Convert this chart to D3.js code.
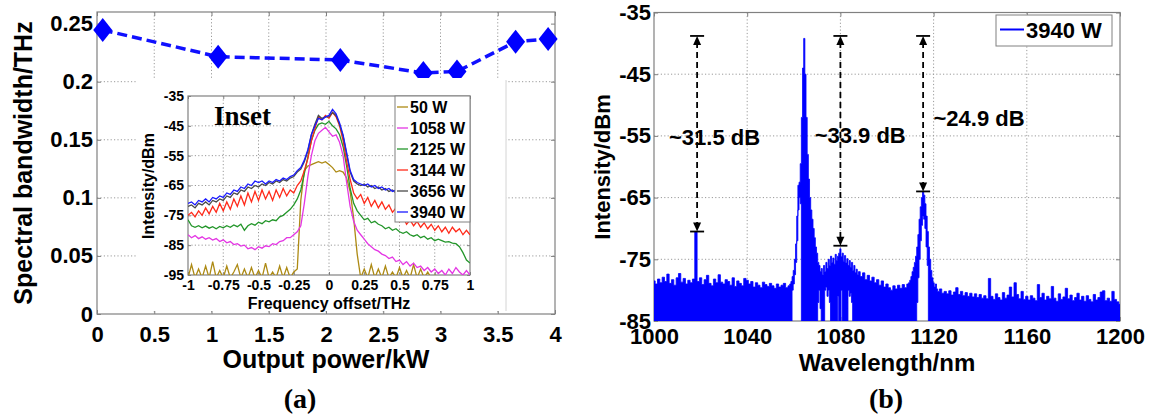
<!DOCTYPE html>
<html><head><meta charset="utf-8">
<script src="https://cdn.jsdelivr.net/npm/d3@7"></script>
<style>
body{margin:0;background:#fff}
svg{display:block}
text{font-family:"Liberation Sans",Arial,sans-serif;font-weight:bold;fill:#000}
text.serif{font-family:"Liberation Serif","Times New Roman",serif}
</style></head>
<body><svg id="c" width="1153" height="417"></svg>
<script>
// ---------------- DATA ----------------
// Panel (a): spectral bandwidth vs output power
const powerKW = [0.05, 1.058, 2.125, 2.85, 3.144, 3.656, 3.94];
const bandwidthTHz = [0.2445, 0.2215, 0.2187, 0.2075, 0.2088, 0.2344, 0.2368];
const aXTicks = [0, 0.5, 1, 1.5, 2, 2.5, 3, 3.5, 4];
const aXTickLabels = ["0", "0.5", "1", "1.5", "2", "2.5", "3", "3.5", "4"];
const aYTicks = [0, 0.05, 0.1, 0.15, 0.2, 0.25];
const aYTickLabels = ["0", "0.05", "0.1", "0.15", "0.2", "0.25"];

// Inset: spectra vs frequency offset
const insetSeries = ["50 W", "1058 W", "2125 W", "3144 W", "3656 W", "3940 W"];
const freqOffset = [-1,-0.975,-0.95,-0.925,-0.9,-0.875,-0.85,-0.825,-0.8,-0.775,-0.75,-0.725,-0.7,-0.675,-0.65,-0.625,-0.6,-0.575,-0.55,-0.525,-0.5,-0.475,-0.45,-0.425,-0.4,-0.375,-0.35,-0.325,-0.3,-0.275,-0.25,-0.225,-0.2,-0.175,-0.15,-0.125,-0.1,-0.075,-0.05,-0.025,0,0.025,0.05,0.075,0.1,0.125,0.15,0.175,0.2,0.225,0.25,0.275,0.3,0.325,0.35,0.375,0.4,0.425,0.45,0.475,0.5,0.525,0.55,0.575,0.6,0.625,0.65,0.675,0.7,0.725,0.75,0.775,0.8,0.825,0.85,0.875,0.9,0.925,0.95,0.975,1];
const int50W = [-96,-91.5,-96,-93,-96,-92,-96,-90.5,-96,-93.5,-96,-92,-96,-94,-91.5,-96,-93,-96,-92.5,-96,-93.5,-96,-91,-96,-94,-96,-92,-96,-92.5,-96,-94,-93,-70,-60,-58.5,-58,-57.5,-57,-57.5,-57,-58,-59,-60.5,-60,-60.5,-62.5,-67,-76,-88,-96,-93,-96,-91.5,-96,-93,-96,-92,-96,-94,-96,-92.5,-96,-93.5,-96,-91.5,-96,-93,-96,-94,-96,-95,-96,-96,-96,-96,-96,-96,-96,-96,-96,-96];
const int1058W = [-81.5,-82.5,-81.8,-82.8,-82.2,-83,-82.5,-83.3,-82.8,-83.8,-83.2,-84.2,-83.8,-84.8,-84.5,-85.3,-85,-86.2,-85.8,-86.5,-85.5,-86,-85.2,-85.5,-84.5,-84.8,-83.8,-83.5,-82.5,-82.5,-81.5,-80.5,-78.5,-71,-62,-55,-50,-47.5,-46.5,-45.5,-47,-48.5,-48,-50.5,-55,-64,-72,-77,-80,-81.5,-83,-84.5,-85.5,-86.5,-87,-88,-88.5,-89.5,-89,-90.5,-90,-91.5,-90.5,-92,-91,-92.5,-92,-93.5,-92.5,-94,-93,-94.5,-93.5,-95,-93,-94.5,-92.5,-94,-95,-93.5,-95];
const int2125W = [-76.5,-78.5,-79,-78.5,-79.2,-78.6,-79.3,-78.8,-79.5,-78.7,-79.2,-78.5,-79,-78.2,-78.8,-78,-80,-78.5,-77.8,-78.3,-77.3,-77.8,-76.8,-77.2,-76.5,-76.8,-75.5,-75,-74,-73,-71.5,-69.5,-66.5,-61,-55.5,-50,-46.5,-44.5,-44,-44.5,-43.5,-45,-46,-48,-52,-58.5,-66,-71,-73.5,-75,-76.5,-76,-77.5,-77,-78,-78.5,-79.5,-79,-80,-79.5,-80.5,-81,-80.5,-81.5,-82,-81.5,-82.5,-82,-83,-82.5,-83.5,-83,-83.5,-84,-83.8,-84.3,-84.5,-85.5,-87.5,-90,-91];
const int3144W = [-75,-74,-75.5,-73.5,-75,-72.5,-74.5,-72,-74,-71,-73.5,-70.5,-73,-69.5,-72,-68.5,-71.5,-67.5,-70.5,-67,-70,-66.5,-69.5,-67,-70,-66.5,-69,-66,-68.5,-66.5,-67.5,-65,-63.5,-60,-56,-50,-46,-42,-43,-41.5,-42.5,-40.5,-42,-45,-50,-57,-63,-67.5,-69.5,-68,-71,-69,-72,-70,-72.5,-70.5,-73,-71.5,-74,-72.5,-77,-75.5,-78,-76.5,-78.5,-77,-79,-77.5,-79.5,-78,-80,-78.5,-80.5,-79,-81,-79,-80.5,-79.5,-81.5,-80,-81.5];
const int3656W = [-72,-71.5,-72.5,-71,-71.5,-70.5,-71.5,-70,-70.5,-69.5,-70,-68.5,-69,-67.5,-68,-66.5,-67,-65.5,-66,-65,-65.5,-64.5,-65,-64,-64.5,-63.5,-64,-63,-63.5,-62.5,-62,-60.5,-59.5,-57,-53.5,-48,-44.5,-41.5,-42.5,-42,-42,-40.5,-41.5,-44.5,-48.5,-54.5,-60.5,-63.5,-64.5,-65,-64.5,-65.5,-65,-66,-65.5,-66.5,-66,-67,-66.5,-67.5,-67,-68,-67.5,-68.5,-68,-69,-68.5,-69.5,-69,-70,-69.5,-70.5,-70,-71,-70.5,-71.5,-71,-72,-71.5,-72.5,-72];
const int3940W = [-71,-70.5,-71.5,-70,-70.5,-69.5,-70.5,-69,-69.5,-68.5,-69,-67.5,-68,-66.5,-67,-65.5,-66,-64.5,-65,-63.5,-64,-63.5,-64.5,-63.5,-64,-63,-63.5,-62.5,-63,-62,-61.5,-60,-59,-56.5,-53,-48,-45,-42.5,-43,-42,-41.5,-39.5,-41,-44,-48,-54,-60,-63,-64,-64.5,-65,-64.5,-65.5,-65,-66,-65.5,-66.5,-66,-67,-66.5,-67.5,-67,-68,-67.5,-68.5,-68,-69,-68.5,-69.5,-69,-70,-69.5,-70.5,-70,-71,-70.5,-71.5,-71,-72,-71.5,-72.5];
const insetXTicks = [-1,-0.75,-0.5,-0.25,0,0.25,0.5,0.75,1];
const insetXTickLabels = ["-1","-0.75","-0.5","-0.25","0","0.25","0.5","0.75","1"];
const insetYTicks = [-95,-85,-75,-65,-55,-45,-35];
const insetYTickLabels = ["-95","-85","-75","-65","-55","-45","-35"];

// Panel (b): full spectrum at 3940 W (upper / lower envelope of the trace)
const wavelengthNm = [1000,1001,1002,1003,1004,1005,1006,1007,1008,1009,1010,1011,1012,1013,1014,1015,1016,1017,1018,1019,1020,1021,1022,1023,1024,1025,1026,1027,1028,1029,1030,1031,1032,1033,1034,1035,1036,1037,1038,1039,1040,1041,1042,1043,1044,1045,1046,1047,1048,1049,1050,1051,1052,1053,1054,1055,1056,1057,1058,
1058.5,1059,1059.5,1060,1060.5,1061,1061.5,1062,1062.5,1063,1063.5,1064,1064.5,1065,1065.5,1066,1066.5,1067,1067.5,1068,1068.5,1069,1069.5,1070,1070.5,1071,1071.5,1072,1072.5,1073,1073.5,1074,1074.5,1075,1075.5,1076,1076.5,1077,1077.5,1078,1078.5,1079,1079.5,1080,1080.5,1081,1081.5,1082,1082.5,1083,1083.5,1084,1084.5,1085,1085.5,1086,1086.5,1087,1087.5,1088,
1089,1090,1091,1092,1093,1094,1095,1096,1097,1098,1099,1100,1101,1102,1103,1104,1105,1106,1107,1108,1109,
1109.5,1110,1110.5,1111,1111.5,1112,1112.5,1113,1113.5,1114,1114.5,1115,1115.5,1116,1116.5,1117,1117.5,1118,1118.5,1119,1119.5,1120,1120.5,1121,1121.5,1122,
1123,1124,1125,1126,1127,1128,1129,1130,1131,1132,1133,1134,1135,1136,1137,1138,1139,1140,1141,1142,1143,1144,1145,1146,1147,1148,1149,1150,1151,1152,1153,1154,1155,1156,1157,1158,1159,1160,1161,1162,1163,1164,1165,1166,1167,1168,1169,1170,1171,1172,1173,1174,1175,1176,1177,1178,1179,1180,1181,1182,1183,1184,1185,1186,1187,1188,1189,1190,1191,1192,1193,1194,1195,1196,1197,1198,1199,1200];
const specMaxDbm = [-78.5,-79.0,-78.2,-78.8,-77.9,-78.6,-77.4,-78.9,-78.3,-79.2,-78.0,-77.3,-78.7,-78.1,-79.0,-78.4,-78.8,-78.2,-70.5,-78.6,-78.0,-79.1,-78.3,-77.6,-78.9,-79.3,-78.2,-78.8,-77.5,-78.7,-79.0,-78.3,-78.6,-79.2,-78.0,-79.4,-78.5,-78.9,-79.3,-78.1,-78.4,-79.0,-78.6,-79.5,-78.8,-79.2,-79.6,-78.7,-79.1,-79.4,-78.9,-79.3,-79.7,-79.0,-79.5,-79.2,-78.9,-79.6,-79.3,
-79.0,-78.6,-77.8,-76.8,-75.0,-72.5,-68.0,-63.0,-62.5,-59.5,-52.0,-44.0,-39.2,-45.0,-52.0,-58.0,-62.0,-65.0,-67.0,-68.5,-70.0,-71.5,-73.0,-74.0,-75.5,-76.0,-77.0,-76.5,-77.5,-76.0,-77.0,-75.5,-76.5,-75.0,-76.0,-74.5,-75.5,-74.8,-75.8,-74.2,-75.2,-74.5,-74.0,-73.3,-74.6,-74.0,-75.3,-74.4,-75.6,-74.9,-76.0,-75.2,-76.3,-75.5,-76.8,-76.0,-77.2,-76.6,-77.5,-77.0,
-77.8,-77.2,-78.3,-77.6,-78.5,-77.9,-78.8,-78.3,-79.2,-78.5,-79.5,-79.0,-79.6,-80.0,-79.3,-79.8,-79.2,-79.7,-79.1,-79.6,-79.0,
-78.8,-78.4,-77.8,-77.0,-76.3,-75.5,-74.5,-73.0,-71.0,-68.5,-66.5,-65.0,-64.0,-64.6,-66.0,-68.0,-70.5,-73.0,-75.0,-76.8,-78.0,-78.8,-79.5,-79.0,-79.8,-80.2,
-79.8,-80.5,-80.2,-80.6,-80.1,-80.8,-80.3,-79.6,-80.7,-80.2,-80.9,-80.4,-81.0,-80.5,-81.1,-80.6,-81.2,-80.7,-81.3,-80.9,-81.4,-78.1,-81.0,-81.5,-80.6,-81.2,-81.6,-80.4,-81.3,-80.8,-79.5,-81.1,-78.8,-80.7,-81.4,-80.2,-81.5,-81.0,-81.6,-80.9,-81.3,-81.7,-79.1,-81.2,-80.5,-81.6,-81.0,-81.4,-79.4,-81.3,-81.8,-80.6,-81.5,-81.1,-79.7,-81.4,-80.8,-81.7,-81.2,-80.5,-81.6,-81.0,-81.8,-80.9,-81.5,-81.9,-80.7,-81.6,-81.2,-80.3,-80.1,-81.7,-81.3,-81.8,-80.2,-81.5,-81.9,-82.3];
const specMinDbm = [-90,-90,-90,-90,-90,-90,-90,-90,-90,-90,-90,-90,-90,-90,-90,-90,-90,-90,-90,-90,-90,-90,-90,-90,-90,-90,-90,-90,-90,-90,-90,-90,-90,-90,-90,-90,-90,-90,-90,-90,-90,-90,-90,-90,-90,-90,-90,-90,-90,-90,-90,-90,-90,-90,-90,-90,-90,-90,-90,
-90,-90,-80,-79,-77.5,-75.5,-72,-67,-65,-66,-90,-90,-90,-90,-90,-90,-90,-90,-90,-90,-90,-90,-90,-90,-82,-80,-83,-90,-90,-90,-80,-79.5,-81,-80,-82,-90,-90,-90,-90,-90,-90,-81,-90,-90,-80,-90,-90,-90,-90,-90,-80,-81,-80.5,-82,-90,-90,-90,-90,-90,-90,
-90,-90,-90,-90,-90,-90,-90,-90,-90,-90,-90,-90,-90,-90,-90,-90,-90,-90,-90,-90,-90,
-90,-90,-90,-90,-90,-90,-90,-82,-78,-75,-72,-69.5,-68,-68.5,-70,-73,-76,-90,-90,-90,-90,-90,-90,-90,-90,-90,
-90,-90,-90,-90,-90,-90,-90,-90,-90,-90,-90,-90,-90,-90,-90,-90,-90,-90,-90,-90,-90,-90,-90,-90,-90,-90,-90,-90,-90,-90,-90,-90,-90,-90,-90,-90,-90,-90,-90,-90,-90,-90,-90,-90,-90,-90,-90,-90,-90,-90,-90,-90,-90,-90,-90,-90,-90,-90,-90,-90,-90,-90,-90,-90,-90,-90,-90,-90,-90,-90,-90,-90,-90,-90,-90,-90,-90,-90];
const bXTicks = [1000, 1040, 1080, 1120, 1160, 1200];
const bXTickLabels = ["1000", "1040", "1080", "1120", "1160", "1200"];
const bYTicks = [-85, -75, -65, -55, -45, -35];
const bYTickLabels = ["-85", "-75", "-65", "-55", "-45", "-35"];
const bLegend = ["3940 W"];
// Annotations: suppression ratios
const annotWavelength = [1018.5, 1080, 1115.5];
const annotTopDbm = [-38.8, -38.8, -38.8];
const annotBottomDbm = [-70.5, -72.8, -64.0];
const annotLabels = ["~31.5 dB", "~33.9 dB", "~24.9 dB"];

// ---------------- DRAW ----------------
const svg = d3.select("#c");
const insetColors = ["#ad8a14", "#e436e4", "#23962a", "#ff2a1a", "#4a4a4a", "#1a1aff"];
const insetData = [int50W, int1058W, int2125W, int3144W, int3656W, int3940W];
const gridColor = "#9a9a9a";
const frameColor = "#808080";

function axesBox(g, x, y, o) {
  const [x0, x1] = x.range(), [y0, y1] = y.range();
  g.append("g").selectAll("line").data(o.xt.slice(1, -1)).join("line")
    .attr("x1", d => x(d)).attr("x2", d => x(d)).attr("y1", y1).attr("y2", y0)
    .attr("stroke", gridColor).attr("stroke-width", 1).attr("stroke-dasharray", "1.2,2.2");
  g.append("g").selectAll("line").data(o.yt.slice(1, -1)).join("line")
    .attr("x1", x0).attr("x2", x1).attr("y1", d => y(d)).attr("y2", d => y(d))
    .attr("stroke", gridColor).attr("stroke-width", 1).attr("stroke-dasharray", "1.2,2.2");
  const ax = g.append("g").attr("transform", `translate(0,${y0})`)
    .call(d3.axisBottom(x).tickValues(o.xt).tickFormat((d, i) => o.xl[i]).tickSizeInner(-o.tk).tickSizeOuter(0).tickPadding(o.xpad));
  const ay = g.append("g").attr("transform", `translate(${x0},0)`)
    .call(d3.axisLeft(y).tickValues(o.yt).tickFormat((d, i) => o.yl[i]).tickSizeInner(-o.tk).tickSizeOuter(0).tickPadding(o.ypad));
  const at = g.append("g").attr("transform", `translate(0,${y1})`)
    .call(d3.axisTop(x).tickValues(o.xt).tickFormat("").tickSizeInner(-o.tk).tickSizeOuter(0));
  const ar = g.append("g").attr("transform", `translate(${x1},0)`)
    .call(d3.axisRight(y).tickValues(o.yt).tickFormat("").tickSizeInner(-o.tk).tickSizeOuter(0));
  [ax, ay, at, ar].forEach(a => {
    a.select(".domain").remove();
    a.selectAll(".tick line").attr("stroke", frameColor);
    a.selectAll("text").attr("font-size", o.fs).attr("fill", "#000");
  });
  g.append("rect").attr("x", x0).attr("y", y1).attr("width", x1 - x0).attr("height", y0 - y1)
    .attr("fill", "none").attr("stroke", frameColor).attr("stroke-width", 1.2);
}

// ===== Panel (a) =====
const xA = d3.scaleLinear([0, 4], [97, 555]);
const yA = d3.scaleLinear([0, 0.26], [314, 12]);
const gA = svg.append("g");
axesBox(gA, xA, yA, {xt: aXTicks, xl: aXTickLabels, yt: aYTicks, yl: aYTickLabels, tk: 4, fs: 22, xpad: 12, ypad: 4});

gA.append("path").datum(powerKW.map((p, i) => [p, bandwidthTHz[i]]))
  .attr("d", d3.line().x(d => xA(d[0])).y(d => yA(d[1])))
  .attr("fill", "none").attr("stroke", "#1010ff").attr("stroke-width", 3.5).attr("stroke-dasharray", "10,5");
const diamond = (cx, cy, w, h) => { const p = d3.path(); p.moveTo(cx, cy - h); p.lineTo(cx + w, cy); p.lineTo(cx, cy + h); p.lineTo(cx - w, cy); p.closePath(); return p.toString(); };
gA.append("g").selectAll("path").data(powerKW.map((p, i) => [p, bandwidthTHz[i]])).join("path")
  .attr("d", d => diamond(xA(d[0]), yA(d[1]), 9.5, 12)).attr("fill", "#0000ff");

gA.append("text").attr("transform", "translate(32,163) rotate(-90)").attr("text-anchor", "middle")
  .attr("font-size", 25).text("Spectral bandwidth/THz");
gA.append("text").attr("x", 326).attr("y", 368).attr("text-anchor", "middle").attr("font-size", 25).text("Output power/kW");
gA.append("text").attr("class", "serif").attr("x", 300).attr("y", 408).attr("text-anchor", "middle").attr("font-size", 28).text("(a)");

// ===== Inset (white background pasted over panel a) =====
const gI = svg.append("g");
gI.append("rect").attr("x", 136).attr("y", 78).attr("width", 370).attr("height", 233).attr("fill", "#fff");
gI.append("line").attr("x1", 506).attr("x2", 506).attr("y1", 80).attr("y2", 311).attr("stroke", "#d4d4d4").attr("stroke-width", 1);
const xI = d3.scaleLinear([-1, 1], [188, 470]);
const yI = d3.scaleLinear([-95, -35], [275, 96]);
gI.append("clipPath").attr("id", "clipI").append("rect").attr("x", 188).attr("y", 96).attr("width", 282).attr("height", 179);
axesBox(gI, xI, yI, {xt: insetXTicks, xl: insetXTickLabels, yt: insetYTicks, yl: insetYTickLabels, tk: 3, fs: 14, xpad: 5, ypad: 4});
const lineI = d3.line().x((d, i) => xI(freqOffset[i])).y(d => yI(d));
gI.append("g").attr("clip-path", "url(#clipI)").selectAll("path").data(insetData).join("path")
  .attr("d", d => lineI(d)).attr("fill", "none").attr("stroke", (d, i) => insetColors[i]).attr("stroke-width", 1.3);
gI.append("text").attr("class", "serif").attr("x", 214).attr("y", 125).attr("font-size", 27).text("Inset");
gI.append("text").attr("transform", "translate(148,186) rotate(-90)").attr("text-anchor", "middle").attr("dominant-baseline", "central")
  .attr("font-size", 16).text("Intensity/dBm");
gI.append("text").attr("x", 329).attr("y", 309).attr("text-anchor", "middle").attr("font-size", 16).text("Frequency offset/THz");
const lg = gI.append("g");
lg.append("rect").attr("x", 395).attr("y", 96).attr("width", 75).attr("height", 126).attr("fill", "#fff").attr("stroke", frameColor).attr("stroke-width", 1);
const lgY = d3.scalePoint().domain(insetSeries).range([107, 212]);
insetSeries.forEach((s, i) => {
  lg.append("line").attr("x1", 397).attr("x2", 408).attr("y1", lgY(s)).attr("y2", lgY(s)).attr("stroke", insetColors[i]).attr("stroke-width", 1.3);
  lg.append("text").attr("x", 410).attr("y", lgY(s)).attr("dominant-baseline", "central").attr("font-size", 16).text(s);
});

// ===== Panel (b) =====
const xB = d3.scaleLinear([1000, 1200], [654, 1120]);
const yB = d3.scaleLinear([-85, -35], [321, 12.5]);
const gB = svg.append("g");
gB.append("clipPath").attr("id", "clipB").append("rect").attr("x", 654).attr("y", 12.5).attr("width", 466).attr("height", 308.5);
axesBox(gB, xB, yB, {xt: bXTicks, xl: bXTickLabels, yt: bYTicks, yl: bYTickLabels, tk: 4, fs: 22, xpad: 7, ypad: 3});
const spec = wavelengthNm.map((w, i) => ({w, hi: specMaxDbm[i], lo: specMinDbm[i]}));
gB.append("path").datum(spec).attr("clip-path", "url(#clipB)")
  .attr("d", d3.area().curve(d3.curveStep).x(d => xB(d.w)).y0(d => yB(Math.max(d.lo, -86))).y1(d => yB(d.hi)))
  .attr("fill", "#0000ff").attr("stroke", "#0000ff").attr("stroke-width", 0.8);

const ann = gB.append("g");
annotWavelength.forEach((w, i) => {
  const x = xB(w), yt = yB(annotTopDbm[i]), yb = yB(annotBottomDbm[i]);
  ann.append("line").attr("x1", x).attr("x2", x).attr("y1", yt + 6).attr("y2", yb - 6)
    .attr("stroke", "#000").attr("stroke-width", 1.8).attr("stroke-dasharray", "6,4");
  [[yt, 1], [yb, -1]].forEach(([yy, dir]) => {
    ann.append("line").attr("x1", x - 7).attr("x2", x + 7).attr("y1", yy).attr("y2", yy).attr("stroke", "#000").attr("stroke-width", 1.8);
    const p = d3.path(); p.moveTo(x, yy); p.lineTo(x - 4, yy + dir * 9); p.lineTo(x + 4, yy + dir * 9); p.closePath();
    ann.append("path").attr("d", p.toString()).attr("fill", "#000");
  });
});
const annPos = [[1026, -55.2], [1088.5, -55.0], [1139.5, -52.2]];
annotLabels.forEach((t, i) => {
  ann.append("text").attr("x", xB(annPos[i][0])).attr("y", yB(annPos[i][1])).attr("text-anchor", "middle")
    .attr("dominant-baseline", "central").attr("font-size", 22).text(t);
});
gB.append("rect").attr("x", 996).attr("y", 15).attr("width", 116).attr("height", 31).attr("fill", "#fff").attr("stroke", frameColor).attr("stroke-width", 1);
gB.append("line").attr("x1", 1000).attr("x2", 1024).attr("y1", 29.5).attr("y2", 29.5).attr("stroke", "#0000ff").attr("stroke-width", 2);
gB.append("text").attr("x", 1026).attr("y", 30).attr("dominant-baseline", "central").attr("font-size", 22).text(bLegend[0]);

gB.append("text").attr("transform", "translate(602,167) rotate(-90)").attr("text-anchor", "middle").attr("dominant-baseline", "central")
  .attr("font-size", 22).text("Intensity/dBm");
gB.append("text").attr("x", 887).attr("y", 371).attr("text-anchor", "middle").attr("font-size", 24).text("Wavelength/nm");
gB.append("text").attr("class", "serif").attr("x", 886).attr("y", 408).attr("text-anchor", "middle").attr("font-size", 28).text("(b)");
</script>
</body></html>
